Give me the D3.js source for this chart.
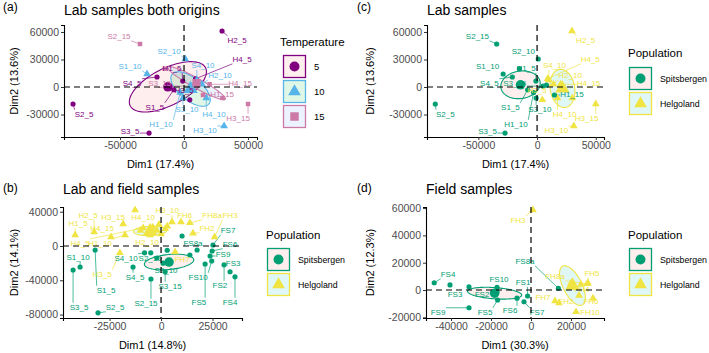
<!DOCTYPE html>
<html>
<head>
<meta charset="utf-8">
<title>PCA of lab and field samples</title>
<script src="https://d3js.org/d3.v7.min.js"></script>
<style>
  body { margin: 0; background: #fff; }
  text { font-family: "Liberation Sans", Arial, Helvetica, sans-serif; }
</style>
</head>
<body>
<div id="chart"></div>
<script>

// ---- lab samples, PCA 1 (panels a and c) ----
var labNames = ["S1_5","S2_5","S3_5","S4_5","H1_5","H2_5","H3_5","H4_5",
                "S1_10","S2_10","S3_10","S4_10","H1_10","H2_10","H3_10","H4_10",
                "S1_15","S2_15","S3_15","S4_15","H1_15","H2_15","H3_15","H4_15"];
var labTemp = [5,5,5,5,5,5,5,5, 10,10,10,10,10,10,10,10, 15,15,15,15,15,15,15,15];
var labPopC = ["Spitsbergen","Spitsbergen","Spitsbergen","Spitsbergen","Spitsbergen","Helgoland","Helgoland","Helgoland",
               "Spitsbergen","Spitsbergen","Spitsbergen","Helgoland","Spitsbergen","Helgoland","Helgoland","Helgoland",
               "Spitsbergen","Spitsbergen","Spitsbergen","Spitsbergen","Spitsbergen","Helgoland","Helgoland","Helgoland"];
var labDim1 = [-8000,-86700,-27300,-21100,-1000,29700,4500,9000,
               -28900,1000,-800,10000,-3000,14000,31300,17400,
               -15000,-34400,5000,8000,14800,30000,50000,20000];
var labDim2 = [-3000,-18500,-50200,10900,6500,61100,-14000,9000,
               14200,30500,-12000,7600,-6000,3000,-42500,-12000,
               20000,46900,1000,2000,-8700,-12000,-18500,3000];
var labLabelX = [-22700,-78100,-42200,-40600,-9400,41400,0,45300,
                 -42200,-11700,2300,14800,-18000,28100,16400,23400,
                 null,-50800,-19000,null,29700,null,42200,43800];
var labLabelY = [-21800,-29400,-48000,4400,20700,51300,-3500,30500,
                 22900,39300,-24000,24000,-40300,13100,-46900,-29400,
                 null,55600,4500,null,-7600,null,-33800,4400];

// ---- field samples ----
var fieldNames = ["FS1","FS2","FS3","FS4","FS5","FS6","FS7","FS8","FS9","FS10","FS8a",
                  "FH1","FH2","FH3","FH4","FH5","FH6","FH7","FH8","FH9","FH10","FH8a"];

// ---- lab + field, PCA 2 (panel b) ----
var bDim1 = [-32000,-30600,-42700,-13600,-41700,-32500,-20000,-8700,
             -39300,-2000,1000,-8000,-17500,-5300,5300,-12600,
             -5000,-4900,2000,3000,-10000,-2000,-18400,-24300,
             17500,30600,33500,35900,21400,24800,25200,14000,23800,24600,10200,
             -4000,15500,26000,-1000,2000,9700,6800,3000,-6000,0,14000];
var bDim2 = [-4700,-78000,-28000,-24500,12800,16300,-8000,21000,
             -24500,-14000,-20000,-8000,12800,12800,28000,42000,
             -8000,-38500,-30000,-5000,18000,18000,25700,10500,
             -4700,-22000,-30000,-36000,-21000,-5800,1200,-10500,-11700,-17500,11700,
             22000,15000,10500,25000,20000,28000,-7000,23000,16000,14000,27000];
var bLabelX = [-26700,-22300,-39800,-12600,-40300,-35400,-28600,-39300,
               -40300,-5300,2400,-17000,-29600,-6800,3000,-8700,
               null,-7300,4400,null,null,null,-23300,-28600,
               null,28600,35000,33500,18400,33500,32500,null,30100,18000,15500,
               null,22300,33500,null,null,11500,10200,null,null,null,24800];
var bLabelY = [-51300,-71100,-71100,-36200,26800,36200,-32700,3500,
               -12800,-14000,-28000,-14000,3500,4700,41500,33800,
               null,-66500,-46600,null,null,null,33800,21000,
               null,-45500,-20500,-65300,-65300,2500,18700,null,-9000,-36200,3500,
               null,21000,36200,null,null,35500,-15200,null,null,null,36200];

// ---- field samples, PCA 3 (panel d) ----
var dDim1 = [-1700,-17000,-40500,-48400,-16700,-7000,-3500,-31000,-31000,-17000,13700,
             25000,14000,1000,24000,28500,31000,12000,20000,22000,22500,28000];
var dDim2 = [-4400,-1000,3700,5300,-7300,-6000,-8600,2400,-13000,2000,1200,
             4000,-9500,58600,-4000,5100,-6000,-8000,5000,2000,-16000,4500];
var dLabelX = [-4000,-24500,-38000,-41500,-23000,-10500,3000,null,-46500,-16000,-3000,
               null,17500,-6500,25500,30500,30000,6000,null,null,29500,12000];
var dLabelY = [5900,-2900,-2900,11700,-16100,-14700,-16100,null,-16100,8100,21200,
               null,-8000,51300,300,12500,-8100,-5100,null,null,-16100,10300];

var tempGroups = [
    { key: 5,  label: "5",  color: "#800080", fill: "#F8766D", shape: d3.symbolCircle },
    { key: 10, label: "10", color: "#56B4E9", fill: "#00BA38", shape: d3.symbolTriangle },
    { key: 15, label: "15", color: "#CC79A7", fill: "#619CFF", shape: d3.symbolSquare }
];
var popGroups = [
    { key: "Spitsbergen", label: "Spitsbergen", color: "#009E73", fill: "#F8766D", shape: d3.symbolCircle },
    { key: "Helgoland",   label: "Helgoland",   color: "#F0E442", fill: "#00BFC4", shape: d3.symbolTriangle }
];

function popOf(name) { return name.charAt(0) === "S" || name.slice(0, 2) === "FS" ? "Spitsbergen" : "Helgoland"; }

function buildRecords(names, dim1, dim2, groups, lx, ly) {
    return names.map(function(n, i) {
        return { name: n, x: dim1[i], y: dim2[i], group: groups[i], lx: lx[i], ly: ly[i] };
    });
}

var bNames = labNames.concat(fieldNames);
var bPop = bNames.map(popOf);
var dPop = fieldNames.map(popOf);

var panels = [
    { tag: "(a)", title: "Lab samples both origins", xTitle: "Dim1 (17.4%)", yTitle: "Dim2 (13.6%)",
      data: buildRecords(labNames, labDim1, labDim2, labTemp, labLabelX, labLabelY),
      groups: tempGroups, legendTitle: "Temperature",
      left: 64, right: 257, top: 25, bottom: 137,
      xDomain: [-93750, 57000], yDomain: [-54500, 67600],
      xTicks: [-50000, 0, 50000], yTicks: [-30000, 0, 30000, 60000],
      tagX: 3, tagY: 11, titleY: 15, xTitleY: 168, yTitleX: 14,
      legX: 280, legTitleY: 46, keyX: 283, keyTop: 55, keyStep: 25, keyLabelSize: 9.5 },
    { tag: "(c)", title: "Lab samples", xTitle: "Dim1 (17.4%)", yTitle: "Dim2 (13.6%)",
      data: buildRecords(labNames, labDim1, labDim2, labPopC, labLabelX, labLabelY),
      groups: popGroups, legendTitle: "Population",
      left: 427, right: 604, top: 25, bottom: 137,
      xDomain: [-93750, 57000], yDomain: [-54500, 67600],
      xTicks: [-50000, 0, 50000], yTicks: [-30000, 0, 30000, 60000],
      tagX: 357, tagY: 11, titleY: 15, xTitleY: 168, yTitleX: 370,
      legX: 628, legTitleY: 57, keyX: 629, keyTop: 67, keyStep: 25, keyLabelSize: 8.8 },
    { tag: "(b)", title: "Lab and field samples", xTitle: "Dim1 (14.8%)", yTitle: "Dim2 (14.1%)",
      data: buildRecords(bNames, bDim1, bDim2, bPop, bLabelX, bLabelY),
      groups: popGroups, legendTitle: "Population",
      left: 63, right: 242, top: 207, bottom: 318,
      xDomain: [-47600, 39300], yDomain: [-84000, 45500],
      xTicks: [-25000, 0, 25000], yTicks: [-80000, -40000, 0, 40000],
      tagX: 3, tagY: 192, titleY: 194, xTitleY: 349, yTitleX: 14,
      legX: 266, legTitleY: 239, keyX: 267, keyTop: 248, keyStep: 25, keyLabelSize: 8.8 },
    { tag: "(d)", title: "Field samples", xTitle: "Dim1 (30.3%)", yTitle: "Dim2 (12.3%)",
      data: buildRecords(fieldNames, dDim1, dDim2, dPop, dLabelX, dLabelY),
      groups: popGroups, legendTitle: "Population",
      left: 426, right: 604, top: 207, bottom: 318,
      xDomain: [-52500, 36500], yDomain: [-20500, 60800],
      xTicks: [-40000, -20000, 0, 20000], yTicks: [-20000, 0, 20000, 40000, 60000],
      tagX: 357, tagY: 192, titleY: 194, xTitleY: 349, yTitleX: 370,
      legX: 628, legTitleY: 239, keyX: 629, keyTop: 248, keyStep: 25, keyLabelSize: 8.8 }
];

var svg = d3.select("#chart")
    .append("svg")
    .attr("width", 709)
    .attr("height", 353)
    .style("background", "#fff");

// 95% confidence ellipse of the group mean
function confEllipse(pts) {
    var n = pts.length;
    var mx = d3.mean(pts, function(d) { return d.x; });
    var my = d3.mean(pts, function(d) { return d.y; });
    var sxx = 0, syy = 0, sxy = 0;
    pts.forEach(function(d) {
        sxx += (d.x - mx) * (d.x - mx);
        syy += (d.y - my) * (d.y - my);
        sxy += (d.x - mx) * (d.y - my);
    });
    sxx /= (n - 1) * n; syy /= (n - 1) * n; sxy /= (n - 1) * n;
    var tr = sxx + syy, det = sxx * syy - sxy * sxy;
    var disc = Math.sqrt(Math.max(tr * tr / 4 - det, 0));
    var l1 = tr / 2 + disc, l2 = Math.max(tr / 2 - disc, 0);
    var theta = sxy !== 0 ? Math.atan2(l1 - sxx, sxy) : (sxx >= syy ? 0 : Math.PI / 2);
    var t = Math.sqrt(-2 * Math.log(0.05));
    var ring = [];
    for (var k = 0; k < 100; k++) {
        var a = 2 * Math.PI * k / 100;
        var u = t * Math.sqrt(l1) * Math.cos(a), v = t * Math.sqrt(l2) * Math.sin(a);
        ring.push([mx + u * Math.cos(theta) - v * Math.sin(theta),
                   my + u * Math.sin(theta) + v * Math.cos(theta)]);
    }
    return { mean: [mx, my], ring: ring };
}

function fmt(d) { return String(d); }

function styleAxis(sel) {
    sel.attr("font-family", "'Liberation Sans', Arial, sans-serif").attr("font-size", 10.5);
    sel.select(".domain").attr("stroke", "#000").attr("stroke-width", 1.1);
    sel.selectAll(".tick line").attr("stroke", "#333").attr("stroke-width", 1);
    sel.selectAll(".tick text").attr("fill", "#4D4D4D");
}

function drawPanel(p) {
    var x = d3.scaleLinear().domain(p.xDomain).range([p.left, p.right]);
    var y = d3.scaleLinear().domain(p.yDomain).range([p.bottom, p.top]);
    var g = svg.append("g");
    var groupOf = {};
    p.groups.forEach(function(grp) { groupOf[grp.key] = grp; });

    var line = d3.line()
        .x(function(d) { return x(d[0]); })
        .y(function(d) { return y(d[1]); })
        .curve(d3.curveLinearClosed);

    var stats = p.groups.map(function(grp) {
        var pts = p.data.filter(function(d) { return d.group === grp.key; });
        var e = confEllipse(pts);
        return { grp: grp, mean: e.mean, ring: e.ring };
    });

    g.selectAll(".ell")
        .data(stats)
        .enter()
        .append("path")
        .attr("d", function(s) { return line(s.ring); })
        .attr("fill", function(s) { return s.grp.fill; })
        .attr("fill-opacity", 0.12)
        .attr("stroke", function(s) { return s.grp.color; })
        .attr("stroke-width", 1.1);

    g.append("g")
        .attr("transform", "translate(0," + p.bottom + ")")
        .call(d3.axisBottom(x).tickValues(p.xTicks).tickFormat(fmt).tickSizeOuter(0).tickSize(3).tickPadding(2))
        .call(styleAxis);
    g.append("g")
        .attr("transform", "translate(" + p.left + ",0)")
        .call(d3.axisLeft(y).tickValues(p.yTicks).tickFormat(fmt).tickSizeOuter(0).tickSize(3).tickPadding(2))
        .call(styleAxis);

    var segLayer = g.append("g");

    var sym = d3.symbol();
    function sizeFor(shape, big) {
        var s = shape === d3.symbolCircle ? 21 : (shape === d3.symbolTriangle ? 26 : 20);
        return big ? s * 3.4 : s;
    }

    g.selectAll(".pt")
        .data(p.data)
        .enter()
        .append("path")
        .attr("transform", function(d) { return "translate(" + x(d.x) + "," + y(d.y) + ")"; })
        .attr("d", function(d) {
            var grp = groupOf[d.group];
            return sym.type(grp.shape).size(sizeFor(grp.shape, false))();
        })
        .attr("fill", function(d) { return groupOf[d.group].color; });

    g.selectAll(".centroid")
        .data(stats)
        .enter()
        .append("path")
        .attr("transform", function(s) { return "translate(" + x(s.mean[0]) + "," + y(s.mean[1]) + ")"; })
        .attr("d", function(s) { return sym.type(s.grp.shape).size(sizeFor(s.grp.shape, true))(); })
        .attr("fill", function(s) { return s.grp.color; });

    var labelled = p.data.filter(function(d) { return d.lx !== null; });
    g.selectAll(".lab")
        .data(labelled)
        .enter()
        .append("text")
        .attr("x", function(d) { return x(d.lx); })
        .attr("y", function(d) { return y(d.ly); })
        .attr("dy", "0.35em")
        .attr("text-anchor", "middle")
        .attr("font-size", 8)
        .attr("fill", function(d) { return groupOf[d.group].color; })
        .text(function(d) { return d.name; })
        .each(function(d) {
            var b = this.getBBox();
            var px = x(d.x), py = y(d.y);
            var nx = Math.max(b.x, Math.min(px, b.x + b.width));
            var ny = Math.max(b.y, Math.min(py, b.y + b.height));
            if (Math.hypot(nx - px, ny - py) > 5) {
                segLayer.append("line")
                    .attr("x1", px).attr("y1", py)
                    .attr("x2", nx).attr("y2", ny)
                    .attr("stroke", groupOf[d.group].color)
                    .attr("stroke-width", 0.7);
            }
        });

    // reference lines at zero
    g.append("line")
        .attr("x1", x(0)).attr("x2", x(0))
        .attr("y1", p.top).attr("y2", p.bottom)
        .attr("stroke", "#000").attr("stroke-width", 1.2).attr("stroke-dasharray", "6,4");
    g.append("line")
        .attr("x1", p.left).attr("x2", p.right)
        .attr("y1", y(0)).attr("y2", y(0))
        .attr("stroke", "#000").attr("stroke-width", 1.2).attr("stroke-dasharray", "6,4");

    g.append("text")
        .attr("x", p.tagX).attr("y", p.tagY)
        .attr("font-size", 12)
        .text(p.tag);
    g.append("text")
        .attr("x", p.left).attr("y", p.titleY)
        .attr("font-size", 14)
        .text(p.title);
    g.append("text")
        .attr("x", (p.left + p.right) / 2).attr("y", p.xTitleY)
        .attr("text-anchor", "middle")
        .attr("font-size", 11)
        .text(p.xTitle);
    g.append("text")
        .attr("transform", "translate(" + p.yTitleX + "," + ((p.top + p.bottom) / 2) + ") rotate(-90)")
        .attr("dy", "0.35em")
        .attr("text-anchor", "middle")
        .attr("font-size", 11)
        .text(p.yTitle);

    // legend
    var leg = g.append("g");
    leg.append("text")
        .attr("x", p.legX).attr("y", p.legTitleY)
        .attr("font-size", 11.5)
        .text(p.legendTitle);
    var key = leg.selectAll(".key")
        .data(p.groups)
        .enter()
        .append("g")
        .attr("transform", function(d, i) { return "translate(" + p.keyX + "," + (p.keyTop + i * p.keyStep) + ")"; });
    key.append("rect")
        .attr("x", 0.5).attr("y", 0.5).attr("width", 22).attr("height", 22)
        .attr("fill", "#fff");
    key.append("rect")
        .attr("x", 0.5).attr("y", 0.5).attr("width", 22).attr("height", 22)
        .attr("fill", function(d) { return d.fill; })
        .attr("fill-opacity", 0.12)
        .attr("stroke", function(d) { return d.color; })
        .attr("stroke-width", 1.3);
    key.append("path")
        .attr("transform", "translate(11.5,11.5)")
        .attr("d", function(d) {
            var s = d.shape === d3.symbolCircle ? 78 : (d.shape === d3.symbolTriangle ? 70 : 72);
            return sym.type(d.shape).size(s)();
        })
        .attr("fill", function(d) { return d.color; });
    key.append("text")
        .attr("x", 31).attr("y", 11.5)
        .attr("dy", "0.35em")
        .attr("font-size", p.keyLabelSize)
        .text(function(d) { return d.label; });
}

panels.forEach(drawPanel);

</script>
</body>
</html>
